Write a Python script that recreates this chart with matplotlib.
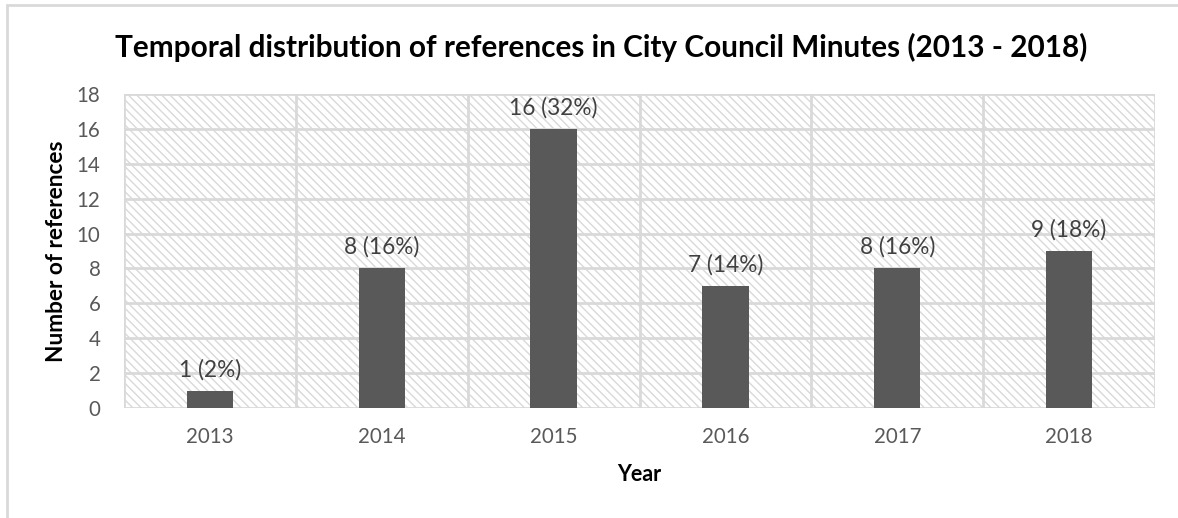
import matplotlib.pyplot as plt
from matplotlib.patches import Rectangle
import numpy as np

plt.rcParams['font.family'] = ['Lato', 'DejaVu Sans']
plt.rcParams['hatch.color'] = '#d9d9d9'
plt.rcParams['hatch.linewidth'] = 1.0

# references per year
years = ['2013', '2014', '2015', '2016', '2017', '2018']
counts = [1, 8, 16, 7, 8, 9]
shares = [2, 16, 32, 14, 16, 18]

fig = plt.figure(figsize=(11.78, 5.18), dpi=100)
ax = fig.add_axes([0.1053, 0.2124, 0.8752, 0.6061])

# outer chart frame
fig.patches.append(Rectangle((7 / 1178, -0.1), 1.2, 1.1 - 5 / 518,
                             transform=fig.transFigure, fill=False,
                             edgecolor='#d9d9d9', linewidth=2))

# hatched plot area
ax.add_patch(Rectangle((0, 0), 1, 1, transform=ax.transAxes, facecolor='white',
                       edgecolor='#d9d9d9', linewidth=0, hatch='\\\\\\\\', zorder=0))

x = np.arange(len(years))
bars = ax.bar(x, counts, width=0.27, color='#595959', zorder=3)

for xi, c, s in zip(x, counts, shares):
    ax.annotate(f'{c} ({s}%)', (xi, c), xytext=(0, 7.5), textcoords='offset points',
                ha='center', va='bottom', fontsize=16.3, color='#404040', zorder=4)

ax.set_xlim(-0.5, len(years) - 0.5)
ax.set_ylim(0, 18)
ax.set_yticks(range(0, 19, 2))
ax.set_xticks(x)
ax.set_xticklabels(years)

# gridlines: horizontal at ticks, vertical between categories
for y in range(2, 19, 2):
    ax.axhline(y, color='#d9d9d9', linewidth=2, zorder=1)
for b in np.arange(-0.5, len(years), 1.0):
    ax.axvline(b, color='#d9d9d9', linewidth=2, zorder=1)

for sp in ax.spines.values():
    sp.set_visible(False)
ax.axhline(0, color='#d9d9d9', linewidth=2, zorder=2)

ax.tick_params(length=0, labelsize=14.8, colors='#595959')
ax.tick_params(axis='y', pad=17)
ax.tick_params(axis='x', pad=14)

ax.set_xlabel('Year', fontsize=15.5, fontweight='bold', color='black', labelpad=12)
ax.set_ylabel('Number of references', fontsize=16.3, fontweight='bold', color='black', labelpad=7)

fig.text(0.51, 0.909, 'Temporal distribution of references in City Council Minutes (2013 - 2018)',
         ha='center', va='center', fontsize=21.4, fontweight='bold', color='black')

fig.savefig('out.png', dpi=100)
